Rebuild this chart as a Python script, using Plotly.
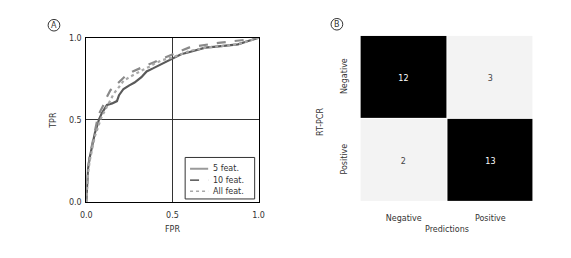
import plotly.graph_objects as go

# ROC curves
fpr_5 = [0, 0.005, 0.01, 0.02, 0.035, 0.05, 0.065, 0.074, 0.09, 0.12, 0.15, 0.178, 0.19, 0.216, 0.25, 0.28, 0.32, 0.35, 0.39, 0.424, 0.46, 0.5, 0.55, 0.595, 0.65, 0.69, 0.74, 0.78, 0.83, 0.88, 0.94, 1.0]
tpr_5 = [0, 0.1, 0.2, 0.27, 0.35, 0.42, 0.47, 0.503, 0.54, 0.59, 0.6, 0.614, 0.65, 0.688, 0.71, 0.727, 0.76, 0.795, 0.815, 0.834, 0.85, 0.873, 0.9, 0.912, 0.93, 0.94, 0.945, 0.95, 0.955, 0.96, 0.98, 1.0]

fpr_10 = [0, 0.005, 0.01, 0.02, 0.035, 0.05, 0.064, 0.08, 0.1, 0.12, 0.14, 0.17, 0.197, 0.23, 0.27, 0.31, 0.35, 0.39, 0.42, 0.46, 0.5, 0.55, 0.595, 0.65, 0.69, 0.74, 0.78, 0.83, 0.88, 0.94, 1.0]
tpr_10 = [0, 0.1, 0.2, 0.28, 0.36, 0.43, 0.5, 0.55, 0.59, 0.64, 0.68, 0.71, 0.737, 0.77, 0.795, 0.815, 0.834, 0.85, 0.864, 0.88, 0.9, 0.92, 0.94, 0.95, 0.96, 0.965, 0.97, 0.975, 0.98, 0.99, 1.0]

fpr_all = [0, 0.005, 0.01, 0.02, 0.035, 0.05, 0.07, 0.083, 0.1, 0.12, 0.14, 0.16, 0.19, 0.216, 0.25, 0.29, 0.33, 0.367, 0.4, 0.44, 0.5, 0.55, 0.6, 0.65, 0.69, 0.74, 0.78, 0.83, 0.88, 0.94, 1.0]
tpr_all = [0, 0.08, 0.17, 0.25, 0.33, 0.4, 0.46, 0.503, 0.54, 0.58, 0.62, 0.66, 0.7, 0.737, 0.76, 0.785, 0.805, 0.824, 0.845, 0.864, 0.88, 0.9, 0.92, 0.93, 0.94, 0.945, 0.95, 0.955, 0.96, 0.98, 1.0]

series_names = ["5 feat.", "10 feat.", "All feat."]

roc_ticks = [0, 0.5, 1.0]
roc_tick_labels = ["0.0", "0.5", "1.0"]

# Confusion matrix
pred_labels = ["Negative", "Positive"]
true_labels = ["Negative", "Positive"]
cm_values = [[12, 3], [2, 13]]

FONT = "DejaVu Sans"
TXT = "#333"
fig = go.Figure()

curve_styles = [dict(color="#5a5a5a", width=2.2, dash="solid"),
                dict(color="#8a8a8a", width=2.2, dash="dash"),
                dict(color="#a8a8a8", width=2.2, dash="dot")]
for (xs, ys), name, st in zip([(fpr_5, tpr_5), (fpr_10, tpr_10), (fpr_all, tpr_all)], series_names, curve_styles):
    fig.add_trace(go.Scatter(x=xs, y=ys, mode="lines", name=name, line=st,
                             xaxis="x", yaxis="y", showlegend=False))

fig.add_trace(go.Heatmap(x=pred_labels, y=true_labels, z=cm_values, xaxis="x2", yaxis="y2",
                         colorscale=[[0, "#f3f3f3"], [0.5, "#f3f3f3"], [0.5, "#000000"], [1, "#000000"]],
                         zmin=0, zmax=15, showscale=False, xgap=1, ygap=1,
                         texttemplate="%{z}", textfont=dict(family=FONT, size=8),
                         hoverinfo="skip"))

W, H = 571, 258
def px(x): return x / W
def py(y): return 1 - y / H

axis_common = dict(showline=True, linecolor="black", linewidth=1, mirror=True, ticks="",
                   tickfont=dict(family=FONT, size=8, color=TXT), zeroline=False)

fig.update_layout(
    width=W, height=H, margin=dict(l=0, r=0, t=0, b=0),
    paper_bgcolor="white", plot_bgcolor="white",
    font=dict(family=FONT, size=8, color=TXT),
    xaxis=dict(domain=[px(82), px(258)], range=[0, 1], tickvals=roc_ticks, ticktext=roc_tick_labels,
               showgrid=True, gridcolor="#333", gridwidth=1, anchor="y", ticklabelstandoff=6, **axis_common),
    yaxis=dict(domain=[py(205), py(35)], range=[0, 1], tickvals=roc_ticks, ticktext=roc_tick_labels,
               showgrid=True, gridcolor="#333", gridwidth=1, anchor="x", ticklabelstandoff=2, **axis_common),
    xaxis2=dict(domain=[px(362), px(539)], anchor="y2", showline=False, ticks="", showgrid=False,
                tickfont=dict(family=FONT, size=8, color=TXT), ticklabelstandoff=10),
    yaxis2=dict(domain=[py(205), py(33)], anchor="x2", autorange="reversed", showline=False, ticks="",
                showgrid=False, tickangle=-90, tickfont=dict(family=FONT, size=8, color=TXT),
                ticklabelstandoff=11),
    showlegend=False,
)

ann = [
    dict(text="TPR", x=px(49), y=py(120), textangle=-90),
    dict(text="FPR", x=px(170), y=py(234)),
    dict(text="RT-PCR", x=px(322), y=py(122), textangle=-90),
    dict(text="Predictions", x=px(450), y=py(234)),
    dict(text="A", x=px(49), y=py(22)),
    dict(text="B", x=px(338), y=py(21)),
]
for a in ann:
    fig.add_annotation(xref="paper", yref="paper", showarrow=False, xanchor="center", yanchor="middle",
                       font=dict(family=FONT, size=8, color=TXT), **a)

for cx, cy in [(49, 22), (338, 21)]:
    fig.add_shape(type="circle", xref="paper", yref="paper",
                  x0=px(cx - 6), x1=px(cx + 6), y0=py(cy + 6), y1=py(cy - 6),
                  line=dict(color=TXT, width=1))

# Legend box (drawn as shapes + text)
fig.add_shape(type="rect", xref="paper", yref="paper", x0=px(183), x1=px(254), y0=py(202), y1=py(159),
              line=dict(color="#333", width=1), fillcolor="white", layer="above")
legend_samples = [dict(color="#9a9a9a", width=2, dash="solid"),
                  dict(color="#333333", width=1.3, dash="dash"),
                  dict(color="#a8a8a8", width=1.5, dash="dot")]
for i, (name, st) in enumerate(zip(series_names, legend_samples)):
    yy = 170.7 + i * 11.7
    fig.add_shape(type="line", xref="paper", yref="paper", x0=px(188), x1=px(206.5), y0=py(yy), y1=py(yy),
                  line=st, layer="above")
    fig.add_annotation(xref="paper", yref="paper", x=px(209.5), y=py(yy), text=name, showarrow=False,
                       xanchor="left", yanchor="middle", font=dict(family=FONT, size=8, color=TXT))

fig.write_html("out.html")
